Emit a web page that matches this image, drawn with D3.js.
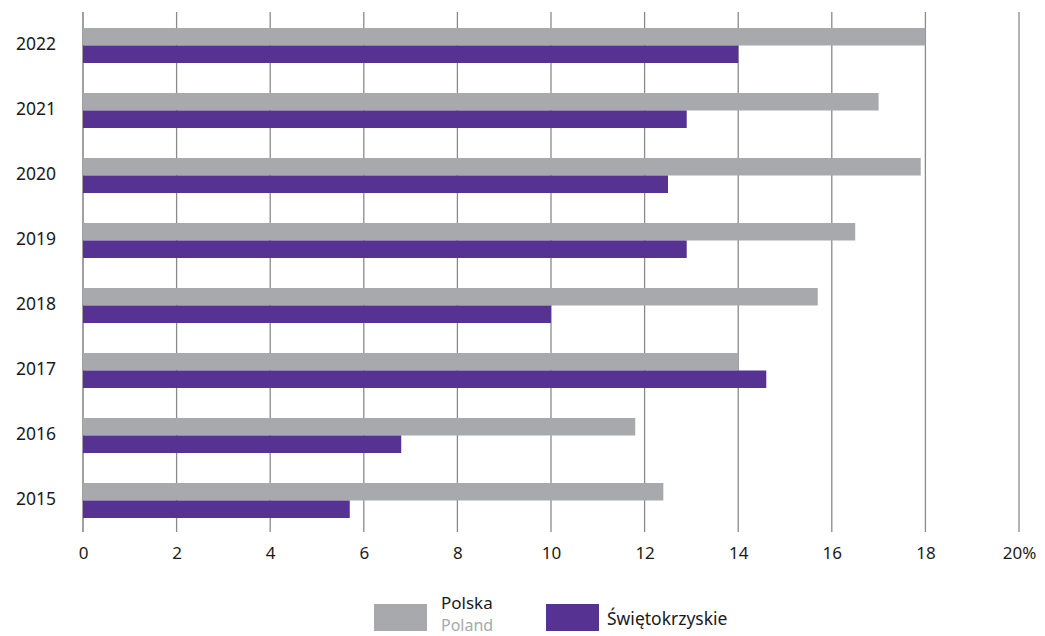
<!DOCTYPE html>
<html><head><meta charset="utf-8">
<script src="https://cdn.jsdelivr.net/npm/d3@7"></script>
<style>body{margin:0;background:#fff}svg{display:block}text{font-family:"Noto Sans",sans-serif}</style>
</head><body><svg id="c" width="1045" height="636"></svg>
<script>
const years = ["2022","2021","2020","2019","2018","2017","2016","2015"];
const polska = [18.0,17.0,17.9,16.5,15.7,14.0,11.8,12.4];
const swietokrzyskie = [14.0,12.9,12.5,12.9,10.0,14.6,6.8,5.7];
const xTicks = [0,2,4,6,8,10,12,14,16,18,20];
const seriesNames = ["Polska","Świętokrzyskie"];
const colors = ["#a7a9ac","#563393"];

const svg = d3.select("#c");
const x = d3.scaleLinear().domain([0,20]).range([83,1019]);
const y = d3.scaleBand().domain(years).range([12,532]);
const inner = d3.scaleBand().domain(seriesNames).range([16,51]);
const FONT = "'Noto Sans',sans-serif";

svg.append("g").selectAll("line").data(xTicks).join("line")
  .attr("x1",d=>x(d)).attr("x2",d=>x(d)).attr("y1",12).attr("y2",532)
  .attr("stroke",d=>d===0?"#6d6e71":"#8a8a8a").attr("stroke-width",1.3);

const data = [polska, swietokrzyskie];
seriesNames.forEach((s,i)=>{
  svg.append("g").selectAll("rect").data(years).join("rect")
    .attr("x",x(0)).attr("y",(d)=>y(d)+inner(s))
    .attr("width",(d,j)=>x(data[i][j])-x(0)).attr("height",inner.bandwidth())
    .attr("fill",colors[i]);
});

const xa = svg.append("g").attr("transform","translate(0,532)")
  .call(d3.axisBottom(x).tickValues(xTicks).tickSize(0).tickPadding(15).tickFormat(d=>d===20?"20%":d));
xa.select(".domain").remove();
xa.selectAll("text").attr("font-size",17).attr("fill","#1a1a1a").attr("font-family",FONT);

const ya = svg.append("g").attr("transform","translate(56,0)")
  .call(d3.axisLeft(y).tickSize(0).tickPadding(0));
ya.select(".domain").remove();
ya.selectAll("text").attr("font-size",17.5).attr("fill","#1a1a1a").attr("font-family",FONT);

const lg = svg.append("g").attr("font-family",FONT);
lg.append("rect").attr("x",374).attr("y",604).attr("width",53).attr("height",27).attr("fill",colors[0]);
lg.append("text").attr("x",441).attr("y",609).attr("font-size",17).attr("fill","#1a1a1a").text("Polska");
lg.append("text").attr("x",441).attr("y",631).attr("font-size",16).attr("fill","#a7a9ac").text("Poland");
lg.append("rect").attr("x",546).attr("y",604).attr("width",53).attr("height",27).attr("fill",colors[1]);
lg.append("text").attr("x",607).attr("y",625).attr("font-size",17.5).attr("fill","#1a1a1a").text("Świętokrzyskie");
</script></body></html>
